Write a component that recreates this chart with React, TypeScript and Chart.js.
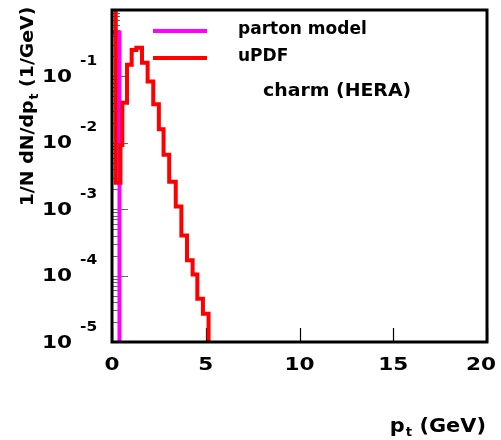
import React, { useEffect, useRef } from 'react';
import { Chart, registerables } from 'chart.js';

Chart.register(...registerables);

// ---- data ----
const X_TICKS = [0, 5, 10, 15, 20];
const Y_EXPONENTS = [-1, -2, -3, -4, -5];

// parton model: bin left edges (GeV) and bin contents; last entry closes the histogram
const PARTON_EDGES = [0, 0.4];
const PARTON_VALUES = [0.46, 1e-7];

// uPDF: bin left edges (GeV) and bin contents (1/GeV); first bin is above the frame
const UPDF_EDGES = [0, 0.2, 0.45, 0.55, 0.8, 1.05, 1.3, 1.6, 1.9, 2.2, 2.5, 2.75, 3.05, 3.4, 3.7, 4.0, 4.3, 4.55, 4.85, 5.15];
const UPDF_VALUES = [3, 0.0025, 0.0093, 0.04, 0.15, 0.25, 0.27, 0.16, 0.084, 0.038, 0.016, 0.0066, 0.0026, 0.0011, 0.0004, 0.00017, 0.000104, 0.000045, 0.0000266, 1e-7];

const LEGEND_LABELS = ['parton model', 'uPDF'];
const LEGEND_COLORS = ['#ff00ff', '#ff0000'];
const NOTE = 'charm (HERA)';

const FONT = '"DejaVu Sans", "Liberation Sans", Arial, sans-serif';

function txt(ctx: CanvasRenderingContext2D, s: string, x: number, y: number, size: number, align: CanvasTextAlign = 'left', sx = 1) {
  ctx.save();
  ctx.font = `bold ${size}px ${FONT}`;
  ctx.textAlign = align;
  ctx.textBaseline = 'middle';
  ctx.fillStyle = '#000';
  ctx.translate(x, y);
  ctx.scale(sx, 1);
  ctx.fillText(s, 0, 0);
  ctx.restore();
}

const decor = {
  id: 'decor',
  beforeDatasetsDraw(chart: any) {
    const { ctx, chartArea: a, scales } = chart;
    const y = scales.y;
    const x = scales.x;
    ctx.save();
    ctx.strokeStyle = '#666';
    ctx.lineWidth = 1;
    for (let e = -5; e < 0; e++) {
      for (let m = 1; m <= 9; m++) {
        const v = m * Math.pow(10, e);
        const py = Math.round(y.getPixelForValue(v)) + 0.5;
        if (py <= a.top + 2 || py >= a.bottom - 1) continue;
        const len = m === 1 ? 16 : 8;
        ctx.beginPath();
        ctx.moveTo(a.left, py);
        ctx.lineTo(a.left + len, py);
        ctx.stroke();
      }
    }
    ctx.strokeStyle = '#000';
    ctx.lineWidth = 1.2;
    for (const t of X_TICKS) {
      const px = Math.round(x.getPixelForValue(t)) + 0.5;
      ctx.beginPath();
      ctx.moveTo(px, a.bottom);
      ctx.lineTo(px, a.bottom - 14);
      ctx.stroke();
    }
    ctx.restore();
  },
  afterDatasetsDraw(chart: any) {
    const { ctx, chartArea: a, scales } = chart;
    const x = scales.x;
    const y = scales.y;
    const W = chart.width;
    ctx.save();
    // frame
    ctx.strokeStyle = '#000';
    ctx.lineWidth = 3;
    ctx.strokeRect(a.left, a.top, a.right - a.left, a.bottom - a.top);

    // y tick labels 10^e
    for (const e of Y_EXPONENTS) {
      const py = y.getPixelForValue(Math.pow(10, e));
      txt(ctx, '10', 57, py + 1, 18, 'center', 1.2);
      txt(ctx, String(e), 80, py - 15, 14, 'left', 1.1);
    }
    // x tick labels
    for (const t of X_TICKS) {
      let px = x.getPixelForValue(t);
      px = Math.min(px, W - 20);
      txt(ctx, String(t), px, 365, 18, 'center', 1.2);
    }

    // legend
    const legendY = [31, 58];
    LEGEND_LABELS.forEach((lab, i) => {
      ctx.strokeStyle = LEGEND_COLORS[i];
      ctx.lineWidth = 4;
      ctx.beginPath();
      ctx.moveTo(153, legendY[i]);
      ctx.lineTo(207, legendY[i]);
      ctx.stroke();
      txt(ctx, lab, 238, legendY[i] - 1, 17, 'left', 1.0);
    });
    txt(ctx, NOTE, 263, 91, 18, 'left', 1.05);

    // y axis title (rotated) 1/N dN/dp_t (1/GeV)
    ctx.save();
    ctx.translate(28, 107);
    ctx.rotate(-Math.PI / 2);
    ctx.fillStyle = '#000';
    ctx.textBaseline = 'middle';
    ctx.textAlign = 'left';
    const p1 = '1/N dN/dp';
    const p2 = 't';
    const p3 = ' (1/GeV)';
    ctx.font = `bold 18px ${FONT}`;
    const w1 = ctx.measureText(p1).width;
    const w3 = ctx.measureText(p3).width;
    ctx.font = `bold 12px ${FONT}`;
    const w2 = ctx.measureText(p2).width;
    const sx = 1.05;
    const total = (w1 + w2 + w3) * sx;
    ctx.scale(sx, 1);
    let cx = -total / 2 / sx;
    ctx.font = `bold 18px ${FONT}`;
    ctx.fillText(p1, cx, 0);
    cx += w1;
    ctx.font = `bold 12px ${FONT}`;
    ctx.fillText(p2, cx + 1, 7);
    cx += w2 + 1;
    ctx.font = `bold 18px ${FONT}`;
    ctx.fillText(p3, cx, 0);
    ctx.restore();

    // x axis title p_t (GeV)
    ctx.save();
    ctx.fillStyle = '#000';
    ctx.textBaseline = 'middle';
    ctx.textAlign = 'left';
    ctx.font = `bold 19px ${FONT}`;
    const q1 = 'p';
    const q3 = ' (GeV)';
    const v1 = ctx.measureText(q1).width;
    const v3 = ctx.measureText(q3).width;
    ctx.font = `bold 12px ${FONT}`;
    const v2 = ctx.measureText('t').width;
    const sx2 = 1.1;
    const tot = (v1 + v2 + 1 + v3) * sx2;
    ctx.translate(486 - tot, 427);
    ctx.scale(sx2, 1);
    ctx.font = `bold 19px ${FONT}`;
    ctx.fillText(q1, 0, 0);
    ctx.font = `bold 12px ${FONT}`;
    ctx.fillText('t', v1 + 1, 6);
    ctx.font = `bold 19px ${FONT}`;
    ctx.fillText(q3, v1 + v2 + 1, 0);
    ctx.restore();

    ctx.restore();
  },
};

export default function App() {
  const ref = useRef<HTMLCanvasElement | null>(null);
  useEffect(() => {
    if (!ref.current) return;
    const partonData = PARTON_EDGES.map((e, i) => ({ x: e, y: PARTON_VALUES[i] }));
    const updfData = UPDF_EDGES.map((e, i) => ({ x: e, y: UPDF_VALUES[i] }));
    const chart = new Chart(ref.current, {
      type: 'line',
      data: {
        datasets: [
          {
            label: LEGEND_LABELS[0],
            data: partonData,
            borderColor: LEGEND_COLORS[0],
            borderWidth: 4,
            pointRadius: 0,
            stepped: true,
            fill: false,
            clip: 0,
            order: 1,
            borderJoinStyle: 'miter',
          },
          {
            label: LEGEND_LABELS[1],
            data: updfData,
            borderColor: LEGEND_COLORS[1],
            borderWidth: 4,
            pointRadius: 0,
            stepped: true,
            fill: false,
            clip: 0,
            order: 0,
            borderJoinStyle: 'miter',
          },
        ],
      } as any,
      options: {
        animation: false,
        responsive: false,
        maintainAspectRatio: false,
        parsing: false as any,
        layout: { padding: { left: 112, top: 10, right: 14, bottom: 98 } },
        plugins: { legend: { display: false }, tooltip: { enabled: false } },
        scales: {
          x: { type: 'linear', display: false, min: 0, max: 20 },
          y: { type: 'logarithmic', display: false, min: 1e-5, max: 1 },
        },
      },
      plugins: [decor],
    });
    return () => chart.destroy();
  }, []);
  return (
    <div style={{ position: 'fixed', left: 0, top: 0, width: 501, height: 440, background: '#fff' }}>
      <canvas ref={ref} width={501} height={440} style={{ display: 'block' }} />
    </div>
  );
}
